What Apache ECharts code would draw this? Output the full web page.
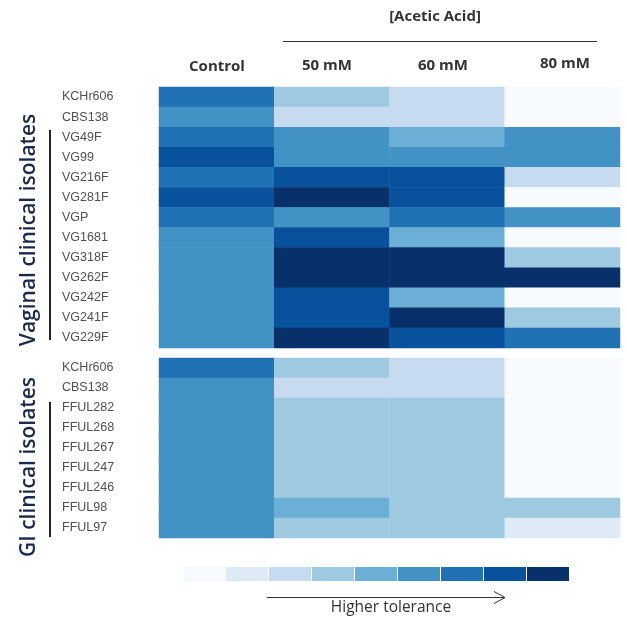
<!DOCTYPE html>
<html>
<head>
<meta charset="utf-8">
<script src="https://cdn.jsdelivr.net/npm/echarts@6/dist/echarts.min.js"></script>
<style>
  html, body { margin: 0; padding: 0; background: #fff; }
  #chart { width: 627px; height: 618px; }
</style>
</head>
<body>
<div id="chart"></div>
<script>
// Conditions (columns)
const conditions = ['Control', '50 mM', '60 mM', '80 mM'];

// Vaginal isolates (rows) and their tolerance level (1 = lowest, 9 = highest)
const vaginalStrains = ['KCHr606', 'CBS138', 'VG49F', 'VG99', 'VG216F', 'VG281F', 'VGP',
  'VG1681', 'VG318F', 'VG262F', 'VG242F', 'VG241F', 'VG229F'];
const vaginalControl = [7, 6, 7, 8, 7, 8, 7, 6, 6, 6, 6, 6, 6];
const vaginal50 = [4, 3, 6, 6, 8, 9, 6, 8, 9, 9, 8, 8, 9];
const vaginal60 = [3, 3, 5, 6, 8, 8, 7, 5, 9, 9, 5, 9, 8];
const vaginal80 = [1, 1, 6, 6, 3, 1, 6, 1, 4, 9, 1, 4, 7];

// GI isolates
const giStrains = ['KCHr606', 'CBS138', 'FFUL282', 'FFUL268', 'FFUL267', 'FFUL247',
  'FFUL246', 'FFUL98', 'FFUL97'];
const giControl = [7, 6, 6, 6, 6, 6, 6, 6, 6];
const gi50 = [4, 3, 4, 4, 4, 4, 4, 5, 4];
const gi60 = [3, 3, 4, 4, 4, 4, 4, 4, 4];
const gi80 = [1, 1, 1, 1, 1, 1, 1, 4, 2];

// Nine-step blue scale
const levels = [1, 2, 3, 4, 5, 6, 7, 8, 9];
const levelColors = ['#f7fbff', '#deebf7', '#c6dbef', '#9ecae1', '#6baed6',
  '#4292c6', '#2171b5', '#08519c', '#08306b'];

function toCells(cols) {
  const out = [];
  cols.forEach((col, ci) => col.forEach((v, ri) => out.push([ci, ri, v])));
  return out;
}

const chart = echarts.init(document.getElementById('chart'));

const labelStyle = {
  align: 'left', margin: 97, color: '#505050', fontSize: 12.5,
  fontFamily: 'Liberation Sans, Arial, sans-serif'
};

const headFont = 'bold 15px "Open Sans", sans-serif';

const option = {
  backgroundColor: '#ffffff',
  animation: false,
  grid: [
    { left: 159, top: 87, width: 461, height: 261 },
    { left: 159, top: 358, width: 461, height: 180 }
  ],
  xAxis: [
    { type: 'category', data: conditions, gridIndex: 0, show: false },
    { type: 'category', data: conditions, gridIndex: 1, show: false }
  ],
  yAxis: [
    { type: 'category', data: vaginalStrains, gridIndex: 0, inverse: true,
      axisLine: { show: false }, axisTick: { show: false }, splitLine: { show: false },
      axisLabel: labelStyle },
    { type: 'category', data: giStrains, gridIndex: 1, inverse: true,
      axisLine: { show: false }, axisTick: { show: false }, splitLine: { show: false },
      axisLabel: labelStyle }
  ],
  visualMap: {
    type: 'piecewise',
    orient: 'horizontal',
    left: 168,
    top: 552,
    itemWidth: 42,
    itemHeight: 14,
    itemGap: 1,
    itemSymbol: 'rect',
    showLabel: false,
    selectedMode: false,
    pieces: levels.map((v, i) => ({ value: v, color: levelColors[i] })),
    seriesIndex: [0, 1]
  },
  series: [
    { type: 'heatmap', xAxisIndex: 0, yAxisIndex: 0,
      data: toCells([vaginalControl, vaginal50, vaginal60, vaginal80]),
      itemStyle: { borderWidth: 0 }, emphasis: { disabled: true } },
    { type: 'heatmap', xAxisIndex: 1, yAxisIndex: 1,
      data: toCells([giControl, gi50, gi60, gi80]),
      itemStyle: { borderWidth: 0 }, emphasis: { disabled: true } }
  ],
  graphic: [
    { type: 'text', style: {
        x: 435, y: 17, text: '[Acetic Acid]', align: 'center', verticalAlign: 'middle',
        font: headFont, fill: '#333' } },
    { type: 'line', shape: { x1: 283, y1: 41.5, x2: 597, y2: 41.5 },
      style: { stroke: '#333', lineWidth: 1 } },
    { type: 'text', style: { x: 217, y: 67, text: 'Control', align: 'center', verticalAlign: 'middle',
        font: headFont, fill: '#333' } },
    { type: 'text', style: { x: 327, y: 66, text: '50 mM', align: 'center', verticalAlign: 'middle',
        font: headFont, fill: '#333' } },
    { type: 'text', style: { x: 443, y: 66, text: '60 mM', align: 'center', verticalAlign: 'middle',
        font: headFont, fill: '#333' } },
    { type: 'text', style: { x: 565, y: 64, text: '80 mM', align: 'center', verticalAlign: 'middle',
        font: headFont, fill: '#333' } },
    { type: 'text', x: 29, y: 230, rotation: Math.PI / 2, style: {
        x: 0, y: 0, text: 'Vaginal clinical isolates', align: 'center', verticalAlign: 'middle',
        font: '600 21px "Open Sans", sans-serif', fill: '#1b2a4a' } },
    { type: 'line', shape: { x1: 50, y1: 130, x2: 50, y2: 340 },
      style: { stroke: '#222', lineWidth: 2 } },
    { type: 'text', x: 29, y: 467, rotation: Math.PI / 2, style: {
        x: 0, y: 0, text: 'GI clinical isolates', align: 'center', verticalAlign: 'middle',
        font: '600 21px "Open Sans", sans-serif', fill: '#1b2a4a' } },
    { type: 'line', shape: { x1: 50, y1: 402, x2: 50, y2: 537 },
      style: { stroke: '#222', lineWidth: 2 } },
    { type: 'line', shape: { x1: 267, y1: 597.5, x2: 505, y2: 597.5 },
      style: { stroke: '#333', lineWidth: 1 } },
    { type: 'polyline', shape: { points: [[494, 591.5], [505, 597.5], [494, 603.5]] },
      style: { stroke: '#333', lineWidth: 1, fill: null } },
    { type: 'text', style: { x: 391, y: 608, text: 'Higher tolerance', align: 'center', verticalAlign: 'middle',
        font: '15.5px "Open Sans", sans-serif', fill: '#333' } }
  ]
};

chart.setOption(option);
</script>
</body>
</html>
